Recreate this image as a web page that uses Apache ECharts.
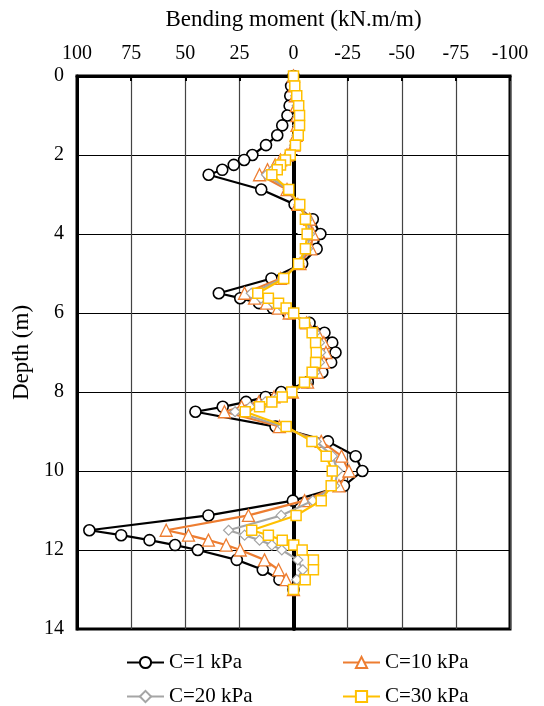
<!DOCTYPE html>
<html>
<head>
<meta charset="utf-8">
<script src="https://cdn.jsdelivr.net/npm/echarts@6/dist/echarts.min.js"></script>
<style>html,body{margin:0;padding:0;background:#fff;}#c{width:544px;height:706px;}</style>
</head>
<body>
<div id="c"></div>
<script>
const depths = [0,0.25,0.5,0.75,1,1.25,1.5,1.75,2,2.125,2.25,2.375,2.5,2.875,3.25,3.625,4,4.375,4.75,5.125,5.5,5.625,5.75,5.875,6,6.25,6.5,6.75,7,7.25,7.5,7.75,8,8.125,8.25,8.375,8.5,8.875,9.25,9.625,10,10.375,10.75,11.125,11.5,11.625,11.75,11.875,12,12.25,12.5,12.75,13];
const c1  = [0,1.1,1.5,1.8,2.8,5.2,7.5,12.7,19.0,22.8,27.6,32.9,39.2,14.9,-0.5,-8.9,-12.4,-10.7,-4.0,10.2,34.5,24.6,15.9,9.6,2.6,-7.4,-14.3,-17.9,-19.4,-17.4,-13.3,-6.6,5.7,12.9,21.9,32.7,45.3,8.3,-15.9,-28.7,-31.8,-23.3,0.3,39.3,94.3,79.6,66.5,54.7,44.2,26.2,14.2,6.5,0];
const c10 = [0,-0.3,-0.8,-1.3,-1.6,-1.6,-1.2,-0.2,3.0,6.0,8.5,12.0,15.7,3.0,-2.0,-7.5,-9.0,-8.0,-3.0,6.0,22.6,18.0,12.5,7.0,2.0,-6.0,-11.0,-14.0,-15.0,-14.0,-11.0,-6.5,0.5,9.0,16.0,24.0,31.9,6.5,-12.8,-22.2,-25.6,-21.0,-5.1,20.8,58.8,48.5,39.3,31.1,24.6,13.4,6.9,3.4,0];
const c20 = [0,-0.4,-1.0,-1.7,-2.0,-2.0,-1.6,-0.5,2.0,4.5,7.0,9.5,12.5,2.5,-2.5,-6.5,-7.5,-6.5,-2.5,5.0,19.5,15.0,9.5,5.0,1.0,-5.5,-10.0,-12.0,-12.5,-12.0,-10.0,-6.0,0.5,7.0,13.0,20.0,27.0,5.0,-10.5,-18.0,-20.5,-19.0,-8.9,5.7,30.0,22.6,15.7,10.0,5.4,-2.0,-4.3,-1.5,0];
const c30 = [0,-0.6,-1.5,-2.4,-2.8,-2.8,-2.2,-0.9,1.5,3.7,6.0,7.5,10.0,2.2,-2.9,-5.5,-6.3,-5.5,-2.3,4.5,16.5,11.6,6.9,3.4,-0.1,-5.1,-8.6,-10.2,-10.5,-10.2,-8.6,-5.1,0.8,5.2,10.0,15.7,22.3,3.4,-8.5,-15.1,-17.9,-17.4,-12.8,-1.2,19.3,11.6,5.2,-0.1,-4.0,-9.2,-9.2,-5.4,0];
const seriesNames = ['C=1 kPa','C=10 kPa','C=20 kPa','C=30 kPa'];
const xTicks = [-100,-75,-50,-25,0,25,50,75,100];
const yTicks = [0,2,4,6,8,10,12,14];

const FONT = 'Liberation Serif';
const pairs = v => v.map((x, i) => [x, depths[i]]);

const chart = echarts.init(document.getElementById('c'), null, {renderer: 'canvas'});
const legendBase = {
  orient: 'horizontal', itemWidth: 37, itemHeight: 14, itemGap: 4,
  textStyle: {fontFamily: FONT, fontSize: 21, color: '#000'}
};
chart.setOption({
  animation: false,
  backgroundColor: '#fff',
  grid: {left: 77, right: 34, top: 76, bottom: 77, show: true, borderColor: '#000', borderWidth: 3, containLabel: false},
  legend: [
    Object.assign({}, legendBase, {data: [seriesNames[0]], left: 121, top: 647}),
    Object.assign({}, legendBase, {data: [seriesNames[1]], left: 337, top: 647}),
    Object.assign({}, legendBase, {data: [seriesNames[2]], left: 121, top: 681}),
    Object.assign({}, legendBase, {data: [seriesNames[3]], left: 337, top: 681})
  ],
  xAxis: {
    type: 'value', position: 'top', inverse: true,
    min: xTicks[0], max: xTicks[xTicks.length - 1], interval: 25,
    name: 'Bending moment (kN.m/m)', nameLocation: 'middle', nameGap: 45,
    nameTextStyle: {fontFamily: FONT, fontSize: 23, color: '#000'},
    axisLine: {onZero: false, lineStyle: {color: '#000', width: 3}},
    axisTick: {show: true, inside: true, length: 5, lineStyle: {color: '#000', width: 2}},
    axisLabel: {fontFamily: FONT, fontSize: 20, color: '#000', margin: 12},
    splitLine: {show: true, lineStyle: {color: '#444', width: 1.2}}
  },
  yAxis: [{
    type: 'value', inverse: true,
    min: yTicks[0], max: yTicks[yTicks.length - 1], interval: 2,
    name: 'Depth (m)', nameLocation: 'middle', nameGap: 44,
    nameTextStyle: {fontFamily: FONT, fontSize: 23, color: '#000'},
    axisLine: {show: true, onZero: false, lineStyle: {color: '#000', width: 3}},
    axisTick: {show: false},
    axisLabel: {fontFamily: FONT, fontSize: 20, color: '#000', margin: 13},
    splitLine: {show: true, lineStyle: {color: '#000', width: 1}}
  }, {
    type: 'value', inverse: true, position: 'right',
    min: yTicks[0], max: yTicks[yTicks.length - 1], interval: 2,
    axisLine: {show: true, onZero: true, lineStyle: {color: '#000', width: 4}},
    axisTick: {show: true, length: 4, lineStyle: {color: '#000', width: 2}},
    axisLabel: {show: false},
    splitLine: {show: false}
  }],
  series: [
    {name: seriesNames[0], type: 'line', data: pairs(c1), symbol: 'circle', symbolSize: 11,
     lineStyle: {color: '#000', width: 2.2}, itemStyle: {color: '#fff', borderColor: '#000', borderWidth: 1.6}, color: '#000', z: 2},
    {name: seriesNames[1], type: 'line', data: pairs(c10), symbol: 'triangle', symbolSize: 12,
     lineStyle: {color: '#ED7D31', width: 2.2}, itemStyle: {color: '#fff', borderColor: '#ED7D31', borderWidth: 1.3}, color: '#ED7D31', z: 3},
    {name: seriesNames[2], type: 'line', data: pairs(c20), symbol: 'diamond', symbolSize: 10,
     lineStyle: {color: '#A5A5A5', width: 2.2}, itemStyle: {color: '#fff', borderColor: '#A5A5A5', borderWidth: 1.2}, color: '#A5A5A5', z: 4},
    {name: seriesNames[3], type: 'line', data: pairs(c30), symbol: 'rect', symbolSize: 10,
     lineStyle: {color: '#FFC000', width: 2.2}, itemStyle: {color: '#fff', borderColor: '#FFC000', borderWidth: 1.5}, color: '#FFC000', z: 5}
  ]
});
</script>
</body>
</html>
